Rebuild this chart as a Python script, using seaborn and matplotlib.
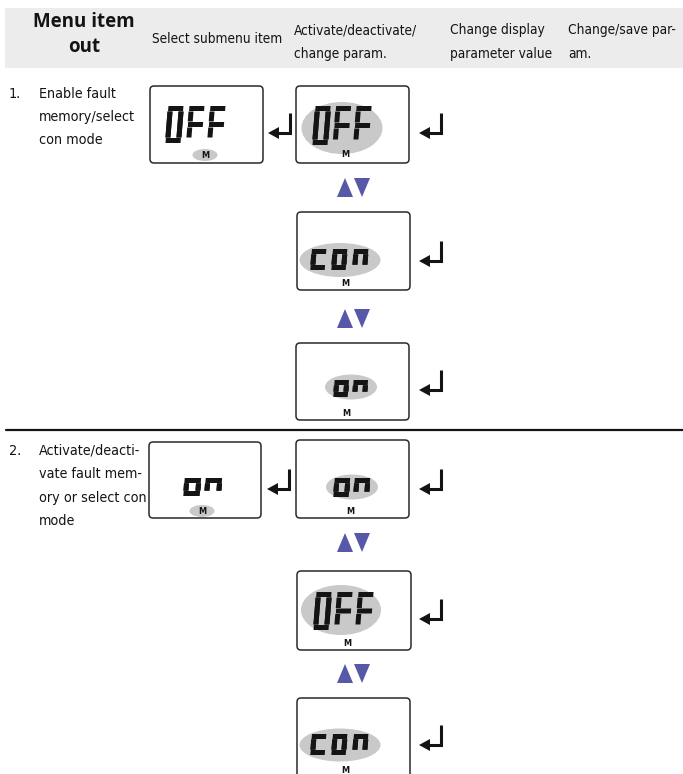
import seaborn as sns
import matplotlib.pyplot as plt
from matplotlib.patches import Rectangle, Ellipse, Polygon, FancyBboxPatch

# Textos de la tabla
header_labels = [["Select submenu item"],
                 ["Activate/deactivate/", "change param."],
                 ["Change display", "parameter value"],
                 ["Change/save par-", "am."]]
header_x = [152, 294, 450, 568]
step1_lines = ["Enable fault", "memory/select", "con mode"]
step2_lines = ["Activate/deacti-", "vate fault mem-", "ory or select con", "mode"]

# Lo que muestra cada pantalla (paso 1 y paso 2)
step1_words = ["OFF", "OFF", "CON", "ON"]
step2_words = ["ON", "ON", "OFF", "CON"]

SEGS = {"O": "abcdef", "F": "aefg", "C": "adef", "N": "abcef"}
INK = "#141414"
GREY = "#c9c9c9"
BLUE = "#5858a8"

sns.set_theme(style="white")
plt.rcParams["font.family"] = ["DejaVu Sans"]
plt.rcParams["font.stretch"] = "condensed"

fig = plt.figure(figsize=(6.83, 7.74), dpi=100)
ax = fig.add_axes([0, 0, 1, 1])
ax.set_xlim(0, 683)
ax.set_ylim(774, 0)
ax.axis("off")


def draw_char(ch, x0, ybot, w, h, t, slant=0.08, g=0.5):
    segs = SEGS[ch]
    full = "g" not in segs
    rects = {
        "a": (g, w - g, h - t, h),
        "d": (g, w - g, 0, t),
        "g": (g, w - g, h / 2 - t / 2, h / 2 + t / 2),
    }
    if full:
        rects["f"] = (0, t, t + g, h - t - g)
        rects["b"] = (w - t, w, t + g, h - t - g)
        rects["e"] = rects["f"]
        rects["c"] = rects["b"]
    else:
        rects["f"] = (0, t, h / 2 + t / 2 + g, h - t - g)
        rects["b"] = (w - t, w, h / 2 + t / 2 + g, h - t - g)
        rects["e"] = (0, t, t + g, h / 2 - t / 2 - g)
        rects["c"] = (w - t, w, t + g, h / 2 - t / 2 - g)
    for s in segs:
        u0, u1, v0, v1 = rects[s]
        pts = [(u0, v0), (u1, v0), (u1, v1), (u0, v1)]
        pts = [(x0 + u + v * slant, ybot - v) for u, v in pts]
        ax.add_patch(Polygon(pts, closed=True, color=INK, lw=0, zorder=4))


def draw_word(word, x0, ybot, h, w, pitch, t, g=0.5):
    for i, ch in enumerate(word):
        draw_char(ch, x0 + i * pitch, ybot, w, h, t, g=g)


def enter_arrow(xr, ybot):
    ax.plot([xr, xr, xr - 12], [ybot - 20, ybot, ybot], color=INK, lw=2.2,
            solid_capstyle="butt", solid_joinstyle="miter", zorder=4)
    ax.add_patch(Polygon([(xr - 22, ybot), (xr - 11, ybot - 6), (xr - 11, ybot + 6)],
                         closed=True, color=INK, lw=0, zorder=4))


def updown(ytop):
    ax.add_patch(Polygon([(337, ytop + 19), (353, ytop + 19), (345, ytop)], color=BLUE, lw=0))
    ax.add_patch(Polygon([(354, ytop), (370, ytop), (362, ytop + 19)], color=BLUE, lw=0))


def lcd_box(x, y, w=114, h=78):
    ax.add_patch(FancyBboxPatch((x, y), w, h, boxstyle="round,pad=0,rounding_size=4",
                                fc="white", ec="#2a2a2a", lw=1.1, zorder=2))


def m_label(x, y, bubble=False):
    if bubble:
        ax.add_patch(Ellipse((x, y), 25, 12, color=GREY, lw=0, zorder=3))
    ax.text(x, y + 0.5, "M", ha="center", va="center", fontsize=6.5,
            fontweight="bold", color=INK, zorder=5)


# Cabecera
ax.add_patch(Rectangle((5, 8), 683, 60, color="#ececec", lw=0, zorder=0))
for yy, s in [(22, "Menu item"), (47, "out")]:
    ax.text(84, yy, s, ha="center", va="center", fontsize=13.5, fontweight="bold",
            family=["Open Sans", "DejaVu Sans"], fontstretch="normal", color=INK)
for x, lines in zip(header_x, header_labels):
    if len(lines) == 1:
        ax.text(x, 43, lines[0], ha="left", va="baseline", fontsize=9.8, color=INK)
    else:
        for k, ln in enumerate(lines):
            ax.text(x, 34 + k * 24, ln, ha="left", va="baseline", fontsize=9.8, color=INK)

# Textos de los pasos
ax.text(9, 98, "1.", ha="left", va="baseline", fontsize=10.3, color=INK)
for k, ln in enumerate(step1_lines):
    ax.text(39, 98 + k * 23, ln, ha="left", va="baseline", fontsize=10.3, color=INK)
ax.text(9, 455, "2.", ha="left", va="baseline", fontsize=10.3, color=INK)
for k, ln in enumerate(step2_lines):
    ax.text(39, 455 + k * 23.3, ln, ha="left", va="baseline", fontsize=10.3, color=INK)

ax.plot([6, 683], [430, 430], color=INK, lw=1.6)

# Paso 1
lcd_box(150, 86, 113, 77)
draw_word(step1_words[0], 165, 143, 37, 16, 21, 5)
m_label(205, 155, bubble=True)
enter_arrow(290, 133)

lcd_box(296, 86, 113, 77)
ax.add_patch(Ellipse((342, 128), 81, 52, color=GREY, lw=0, zorder=3))
draw_word(step1_words[1], 312, 145, 39, 16, 20.5, 5)
m_label(345, 154)
enter_arrow(441, 133)
updown(178)

lcd_box(297, 212, 113, 78)
ax.add_patch(Ellipse((340, 260), 81, 34, color=GREY, lw=0, zorder=3))
draw_word(step1_words[2], 310, 270, 21, 15, 21, 5, g=0.3)
m_label(345, 283)
enter_arrow(441, 261)
updown(309)

lcd_box(296, 343, 113, 77)
ax.add_patch(Ellipse((351, 387), 52, 25, color=GREY, lw=0, zorder=3))
draw_word(step1_words[3], 333, 397, 17, 15, 19, 5, g=0.3)
m_label(346, 413)
enter_arrow(441, 390)

# Paso 2
lcd_box(149, 442, 112, 76)
draw_word(step2_words[0], 183, 496, 18, 17, 21, 5, g=0.3)
m_label(202, 511, bubble=True)
enter_arrow(289, 489)

lcd_box(296, 440, 113, 78)
ax.add_patch(Ellipse((352, 487), 52, 25, color=GREY, lw=0, zorder=3))
draw_word(step2_words[1], 333, 497, 19, 16, 20, 5, g=0.3)
m_label(350, 511)
enter_arrow(441, 489)
updown(533)

lcd_box(297, 571, 114, 79)
ax.add_patch(Ellipse((341, 610), 80, 50, color=GREY, lw=0, zorder=3))
draw_word(step2_words[2], 313, 630, 38, 16, 21, 5)
m_label(347, 643)
enter_arrow(441, 619)
updown(664)

lcd_box(297, 698, 113, 90)
ax.add_patch(Ellipse((340, 745), 81, 33, color=GREY, lw=0, zorder=3))
draw_word(step2_words[3], 310, 755, 21, 15, 21, 5, g=0.3)
m_label(345, 770)
enter_arrow(441, 745)

fig.savefig("out.png", dpi=100)
